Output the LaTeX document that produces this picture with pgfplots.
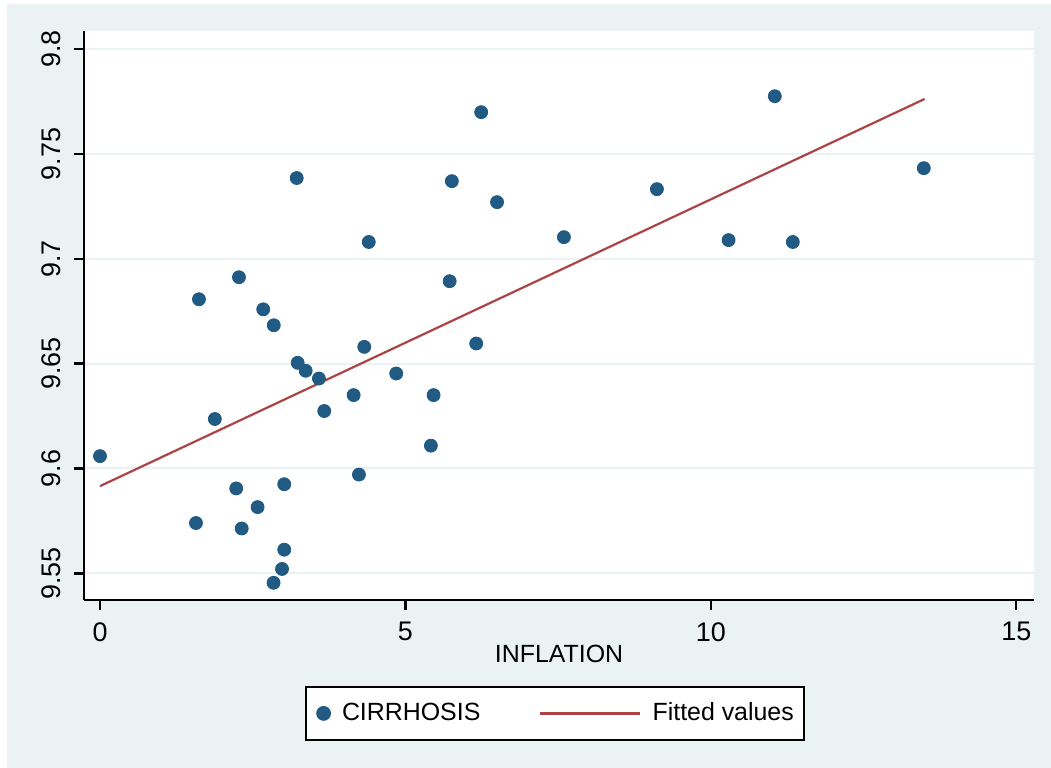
\documentclass[border=0pt]{standalone}
\usepackage{pgfplots}
\pgfplotsset{compat=1.18}
\usepackage{fontspec}
\setmainfont{Liberation Sans}
\definecolor{bgc}{RGB}{234,242,243}
\definecolor{dotc}{RGB}{33,90,130}
\definecolor{linec}{RGB}{172,68,68}
\pgfplotstableread{
x y
0.00 9.6059
1.571 9.5740
1.620 9.6807
1.880 9.6236
2.230 9.5905
2.275 9.6912
2.320 9.5714
2.580 9.5816
2.672 9.6759
2.845 9.6683
2.841 9.5455
2.980 9.5521
3.016 9.5613
3.016 9.5925
3.220 9.7385
3.236 9.6504
3.367 9.6466
3.584 9.6429
3.671 9.6274
4.152 9.6350
4.239 9.5971
4.326 9.6580
4.400 9.7080
4.849 9.6453
5.417 9.6109
5.461 9.6350
5.724 9.6893
5.760 9.7370
6.159 9.6596
6.240 9.7699
6.500 9.7270
7.594 9.7103
9.117 9.7332
10.290 9.7089
11.047 9.7775
11.342 9.7080
13.486 9.7432
}\cirr
\begin{document}
\begin{tikzpicture}
\useasboundingbox (-42bp,-84bp) rectangle (483.5bp,300bp);
\fill[bgc] (-38.5bp,-84bp) rectangle (483.5bp,298bp);
\begin{axis}[
  at={(0bp,0bp)}, anchor=south west,
  scale only axis, width=475bp, height=284.5bp,
  xmin=-0.262, xmax=15.29, ymin=9.5373, ymax=9.8086,
  axis background/.style={fill=white},
  axis x line*=bottom, axis y line*=left,
  axis line style={black, line width=1.2bp},
  tick align=outside, major tick length=5bp,
  tick style={black, line width=1.2bp},
  xtick={0,5,10,15}, xticklabels={0,5,10,15},
  ytick={9.55,9.6,9.65,9.7,9.75,9.8},
  yticklabels={9.55,9.6,9.65,9.7,9.75,9.8},
  yticklabel style={rotate=90, anchor=south, inner ysep=6.5bp},
  xticklabel style={inner ysep=6bp},
  ticklabel style={font=\fontsize{13.5}{16}\selectfont},
  ymajorgrids, grid style={bgc, line width=1bp},
  xlabel={INFLATION},
  xlabel style={font=\fontsize{12.5}{15}\selectfont,
    at={(axis description cs:0.5,0)}, anchor=base, yshift=-31bp},
  legend columns=2,
  legend style={at={(0.5,0)}, anchor=north, yshift=-43bp, xshift=-2bp,
    draw=black, line width=0.9bp, fill=white,
    inner xsep=5.25bp, inner ysep=7.25bp,
    font=\fontsize{12.5}{15}\selectfont,
    nodes={inner sep=0pt, text height=9.5bp, text depth=2.5bp, anchor=base west},
    /tikz/every odd column/.append style={column sep=5.5bp},
    /tikz/every even column/.append style={column sep=29.5bp}},
]
\addplot[only marks, mark=*, mark size=3.25bp, dotc, mark options={fill=dotc, draw=dotc},
  legend image code/.code={\fill[dotc] (3.25bp,3.5bp) circle (3.25bp);}]
  table[x=x,y=y] {\cirr};
\addlegendentry{CIRRHOSIS}
\addplot[linec, line width=1.1bp,
  legend image code/.code={\draw[linec, line width=1.1bp] (0bp,3.5bp) -- (50bp,3.5bp);}]
  coordinates {(0,9.5916) (13.50,9.7762)};
\addlegendentry{Fitted values}
\end{axis}
\end{tikzpicture}
\end{document}
